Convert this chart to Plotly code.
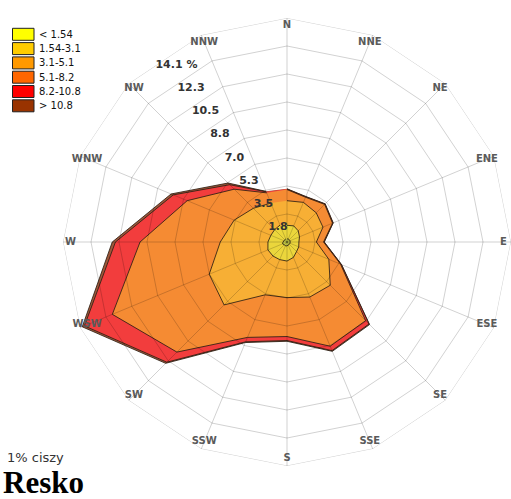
import numpy as np
import plotly.graph_objects as go

# Wind rose for Resko: frequency (%) of wind by direction and speed class (m/s)
directions = ["N", "NNE", "NE", "ENE", "E", "ESE", "SE", "SSE",
              "S", "SSW", "SW", "WSW", "W", "WNW", "NW", "NNW"]
speed_classes = ["< 1.54", "1.54-3.1", "3.1-5.1", "5.1-8.2", "8.2-10.8", "> 10.8"]

freq_lt_1_54 = [0.20, 0.20, 0.20, 0.20, 0.20, 0.20, 0.20, 0.20, 0.25, 0.25, 0.25, 0.30, 0.25, 0.20, 0.20, 0.20]
freq_1_54_3_1 = [0.85, 0.90, 0.80, 0.65, 0.55, 0.60, 0.65, 0.85, 0.95, 0.95, 1.00, 1.00, 0.95, 0.90, 0.90, 0.95]
freq_3_1_5_1 = [1.55, 1.60, 1.60, 1.60, 1.10, 2.05, 3.00, 2.70, 2.30, 2.40, 4.35, 4.00, 3.00, 2.50, 1.90, 1.50]
freq_5_1_8_2 = [0.70, 0.35, 0.75, 0.65, 0.45, 0.80, 3.15, 3.35, 2.45, 2.90, 4.20, 6.60, 5.05, 3.20, 1.70, 0.70]
freq_8_2_10_8 = [0.03, 0.03, 0.03, 0.03, 0.03, 0.05, 0.30, 0.30, 0.25, 0.30, 0.90, 1.90, 1.55, 0.95, 0.40, 0.07]
freq_gt_10_8 = [0.02, 0.02, 0.02, 0.02, 0.02, 0.02, 0.05, 0.05, 0.05, 0.05, 0.10, 0.15, 0.20, 0.15, 0.15, 0.03]

calm_percent = 1

ring_values = [1.7625, 3.525, 5.2875, 7.05, 8.8125, 10.575, 12.3375, 14.1]
ring_labels = ["1.8", "3.5", "5.3", "7.0", "8.8", "10.5", "12.3", "14.1 %"]
r_max = 14.1

# colours: swatches in the key, and the softer tones used for the areas
swatch_colors = ["#FFFF00", "#FFCC00", "#FF9900", "#FF6600", "#FF0000", "#993300"]
area_colors = ["#D6DC4C", "#EBD63C", "#F7AF35", "#F58B33", "#F23D3D", "#A0573A"]
outline_color = "rgba(45,32,20,0.85)"
grid_color = "rgba(0,0,0,0.18)"

W, H = 511, 499
cx, cy, rad = 287, 242, 224  # pixel centre and radius of the rose


def px_x(x):
    return x / W


def px_y(y):
    return 1 - y / H


dom_x = [px_x(cx - rad), px_x(cx + rad)]
dom_y = [px_y(cy + rad), px_y(cy - rad)]

series = np.array([freq_lt_1_54, freq_1_54_3_1, freq_3_1_5_1,
                   freq_5_1_8_2, freq_8_2_10_8, freq_gt_10_8])
cumulative = np.cumsum(series, axis=0)

fig = go.Figure()

# stacked areas, outermost (all speeds) first
for i in range(len(speed_classes) - 1, -1, -1):
    fig.add_trace(go.Scatterpolar(
        r=list(cumulative[i]), theta=directions,
        mode="lines", fill="toself",
        fillcolor=area_colors[i],
        line=dict(color=outline_color, width=1),
        name=speed_classes[i], hoverinfo="skip", showlegend=False,
        subplot="polar"))

# polygon rings and spokes drawn over the areas
for rv in ring_values:
    fig.add_trace(go.Scatterpolar(
        r=[rv] * (len(directions) + 1), theta=directions + [directions[0]],
        mode="lines", line=dict(color=grid_color, width=1),
        hoverinfo="skip", showlegend=False, subplot="polar"))

spoke_r, spoke_t = [], []
for d in directions:
    spoke_r += [0, r_max, None]
    spoke_t += [d, d, None]
fig.add_trace(go.Scatterpolar(
    r=spoke_r, theta=spoke_t, mode="lines", connectgaps=False,
    line=dict(color=grid_color, width=1),
    hoverinfo="skip", showlegend=False, subplot="polar"))

# compass labels just inside the outer ring
fig.add_trace(go.Scatterpolar(
    r=[r_max * 0.966] * len(directions), theta=directions,
    mode="text", text=directions,
    textfont=dict(family="DejaVu Sans", size=10, color="#5a5a5a", weight="bold"),
    textposition="middle center",
    hoverinfo="skip", showlegend=False, subplot="polar"))

# radial scale labels along a line between NW and NNW
label_r = [v - 0.65 - 0.04 * (k + 1) for k, v in enumerate(ring_values)]
fig.add_trace(go.Scatterpolar(
    r=label_r, theta=[328] * len(ring_values),
    mode="text", text=ring_labels,
    textfont=dict(family="DejaVu Sans", size=11, color="#333333", weight="bold"),
    textposition="middle center",
    hoverinfo="skip", showlegend=False, subplot="polar2"))

fig.update_layout(
    width=W, height=H,
    margin=dict(l=0, r=0, t=0, b=0),
    paper_bgcolor="white",
    showlegend=False,
    polar=dict(
        domain=dict(x=dom_x, y=dom_y),
        bgcolor="white",
        gridshape="linear",
        angularaxis=dict(type="category", categoryarray=directions,
                         direction="clockwise", rotation=90,
                         showgrid=False, showline=False,
                         showticklabels=False, ticks=""),
        radialaxis=dict(range=[0, r_max], showgrid=False, showline=False,
                        showticklabels=False, ticks=""),
    ),
    polar2=dict(
        domain=dict(x=dom_x, y=dom_y),
        bgcolor="rgba(0,0,0,0)",
        angularaxis=dict(direction="clockwise", rotation=90, visible=False),
        radialaxis=dict(range=[0, r_max], visible=False),
    ),
)

# speed-class key in the top-left corner
row_y0, row_step = 34.3, 14.3
shapes, annotations = [], []
for i, (label, col) in enumerate(zip(speed_classes, swatch_colors)):
    yc = row_y0 + i * row_step
    shapes.append(dict(type="rect", xref="paper", yref="paper",
                       x0=px_x(12.5), x1=px_x(34), y0=px_y(yc + 6), y1=px_y(yc - 6),
                       fillcolor=col, line=dict(color="#222222", width=1)))
    annotations.append(dict(x=px_x(37), y=px_y(yc), xref="paper", yref="paper",
                            text=label, showarrow=False,
                            xanchor="left", yanchor="middle",
                            font=dict(family="DejaVu Sans", size=10, color="#111111")))

annotations.append(dict(x=px_x(5), y=px_y(457), xref="paper", yref="paper",
                        text=f"{calm_percent}% ciszy", showarrow=False,
                        xanchor="left", yanchor="middle",
                        font=dict(family="DejaVu Sans", size=13, color="#333333")))
annotations.append(dict(x=px_x(1), y=px_y(482), xref="paper", yref="paper",
                        text="<b>Resko</b>", showarrow=False,
                        xanchor="left", yanchor="middle",
                        font=dict(family="Liberation Serif", size=31, color="#000000")))

fig.update_layout(shapes=shapes, annotations=annotations)

fig.write_html("out.html")
